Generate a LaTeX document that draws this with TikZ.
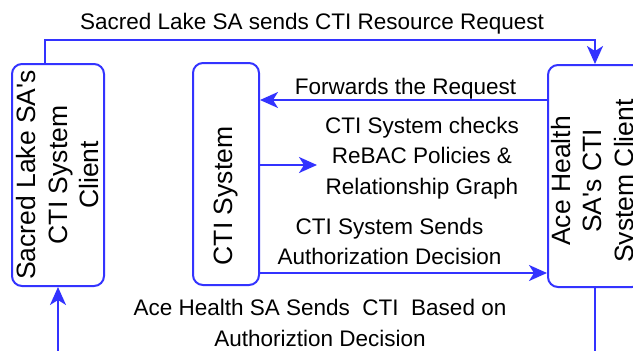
\documentclass[tikz,border=0pt]{standalone}
\usepackage{fontspec}
\setmainfont{Liberation Sans}
\usetikzlibrary{arrows.meta}
\definecolor{flowblue}{RGB}{51,51,255}

\begin{document}
\begin{tikzpicture}[
        x=1pt, y=-1pt,
        block/.style={rectangle, draw=flowblue, line width=2pt, rounded corners=10pt, minimum height=222pt},
        boxtext/.style={rotate=90, align=center, inner sep=0pt, font=\fontsize{26.5}{31.5}\selectfont},
        lbl/.style={align=center, inner sep=0pt, font=\fontsize{22.5}{30.5}\selectfont},
        flow/.style={draw=flowblue, line width=2pt, -{Stealth[length=18pt, width=16pt, inset=5pt]}},
        ]
        \useasboundingbox (0,0) rectangle (633,351);
        \clip (0,0) rectangle (633,351);

        % the three parties
        \node (sacred) at (58,175) [block, minimum width=92pt] {};
        \node (cti) at (226,174) [block, minimum width=66pt] {};
        \node (ace) at (595,176) [block, minimum width=94pt] {};
        \node (sacredtext) at (sacred.center) [boxtext] {Sacred Lake SA\textquotesingle s\\CTI System\\Client};
        \node (ctitext) at ([yshift=-22pt]cti.center) [boxtext] {CTI System};
        \node (acetext) at ([yshift=-5pt]ace.center) [boxtext] {Ace Health\\SA\textquotesingle s CTI\\System Client};

        \coordinate (fwdstart) at ([yshift=76pt]ace.west);
        \coordinate (chkend) at (317,165);
        \coordinate (authstart) at ([yshift=-99pt]cti.east);

        % messages
        \draw[flow] ([xshift=-13pt]sacred.north) |- node[lbl, pos=0.75, anchor=base, yshift=11pt, xshift=-8pt] {Sacred Lake SA sends CTI Resource Request} ([yshift=24pt]ace.north) -- (ace.north);
        \draw[flow] (fwdstart) -- node[lbl, anchor=base, yshift=6pt, xshift=2pt] {Forwards the Request} (fwdstart -| cti.east);
        \draw[flow] (cti.east |- chkend) -- (chkend);
        \node (checks) at (422,158) [lbl] {CTI System checks\\ReBAC Policies \&\\Relationship Graph};
        \draw[flow] (authstart) -- node[lbl, above=7pt, xshift=-14pt] {CTI System Sends\\Authorization Decision} (authstart -| ace.west);
        \draw[flow] (ace.south) -- ++(0,80) -| (sacred.south);
        \node (sends) at (320,323) [lbl] {Ace Health SA Sends\ \ CTI\ \ Based on\\Authoriztion Decision};
    \end{tikzpicture}
\end{document}
